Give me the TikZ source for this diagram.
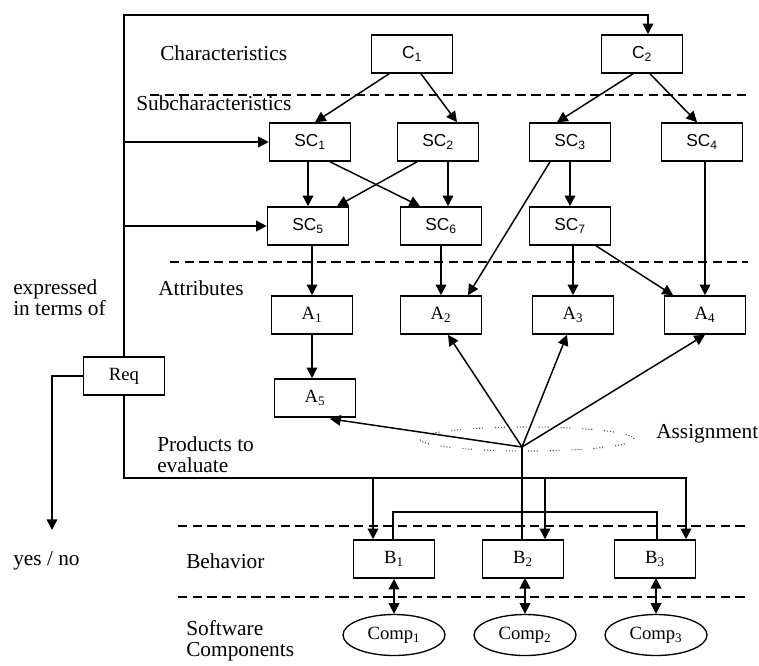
\documentclass[tikz,border=0pt]{standalone}
\usepackage{fontspec}
\setmainfont{Liberation Serif}
\newfontfamily\boxsans{Liberation Sans}
\usetikzlibrary{arrows.meta,shapes.geometric,calc}
\newcommand\mysub[1]{\textsubscript{#1}}
\begin{document}
\begin{tikzpicture}[x=0.75pt,y=-0.75pt,
  box/.style={draw,line width=1.2pt,minimum width=60.75pt,minimum height=28.5pt,inner sep=0pt,font=\fontsize{14}{14}\selectfont},
  sbox/.style={box,font=\boxsans\fontsize{13}{13}\selectfont},
  comp/.style={draw,ellipse,line width=1pt,minimum width=76.5pt,minimum height=30.75pt,inner sep=0pt,font=\fontsize{14}{14}\selectfont},
  lbl/.style={anchor=west,inner sep=0pt,align=left,font=\fontsize{16}{15.5}\selectfont},
  arr/.style={line width=1.1pt,-{Triangle[length=8pt,width=8pt]}},
  ln/.style={line width=1.1pt},
  dsh/.style={line width=1.2pt,dash pattern=on 7pt off 4pt},
  darr/.style={line width=1.1pt,{Triangle[length=8pt,width=8pt]}-{Triangle[length=8pt,width=8pt]}}
]
\useasboundingbox (0,0) rectangle (759,665);
% dashed layer separators
\draw[dsh] (150,95) -- (748,95);
\draw[dsh] (170,262) -- (748,262);
\draw[dsh] (178,526) -- (748,526);
\draw[dsh] (178,597) -- (748,597);
% labels
\node[lbl] (lchar) at (160,53) {Characteristics};
\node[lbl] (lsub) at (136,103) {Subcharacteristics};
\node[lbl] (lattr) at (158,288) {Attributes};
\node[lbl] (lexp) at (13,298) {expressed\\in terms of};
\node[lbl] (lprod) at (157,455) {Products to\\evaluate};
\node[lbl] (lassign) at (656,434) {Assignment};
\node[lbl] (lbeh) at (186,561) {Behavior};
\node[lbl] (lsoft) at (186,641) {Software\\Components};
\node[lbl] (lyes) at (13,561) {yes / no};
% boxes
\node[sbox] (C1) at (412,54) {C\mysub{1}};
\node[sbox] (C2) at (642,54) {C\mysub{2}};
\node[sbox] (SC1) at (310,142) {SC\mysub{1}};
\node[sbox] (SC2) at (438,142) {SC\mysub{2}};
\node[sbox] (SC3) at (570,142) {SC\mysub{3}};
\node[sbox] (SC4) at (702,142) {SC\mysub{4}};
\node[sbox] (SC5) at (308,226) {SC\mysub{5}};
\node[sbox] (SC6) at (441,226) {SC\mysub{6}};
\node[sbox] (SC7) at (570,226) {SC\mysub{7}};
\node[box] (A1) at (312,315) {A\mysub{1}};
\node[box] (A2) at (441,315) {A\mysub{2}};
\node[box] (A3) at (573,315) {A\mysub{3}};
\node[box] (A4) at (705,315) {A\mysub{4}};
\node[box] (A5) at (315,398) {A\mysub{5}};
\node[box] (Req) at (124,376) {Req};
\node[box] (B1) at (394,559) {B\mysub{1}};
\node[box] (B2) at (523,559) {B\mysub{2}};
\node[box] (B3) at (655,559) {B\mysub{3}};
\node[comp] (Comp1) at (394,635) {Comp\mysub{1}};
\node[comp] (Comp2) at (525,635) {Comp\mysub{2}};
\node[comp] (Comp3) at (656,635) {Comp\mysub{3}};
% helper coordinates
\coordinate (sc6in) at ($(SC6.north)+(7,0)$);
\coordinate (sc2out) at (sc6in |- SC2.south);
\coordinate (c2in) at ($(C2.north)+(6,0)$);
\coordinate (topc) at ($(C2.north)+(6,-19)$);
\coordinate (yn) at (52,530);
% frame from Req
\draw[arr] (Req.north) |- (topc) -- (c2in);
\draw[arr] (Req.north |- SC1.west) -- (SC1.west);
\draw[arr] (Req.north |- SC5.west) -- (SC5.west);
\draw[arr] (Req.west) -| (yn);
% characteristics to subcharacteristics
\draw[arr] ($(C1.south)+(-23,0)$) -- ($(SC1.north)+(5,0)$);
\draw[arr] ($(C1.south)+(9,0)$) -- ($(SC2.north)+(19,0)$);
\draw[arr] ($(C2.south)+(-9,0)$) -- ($(SC3.north)+(-13,0)$);
\draw[arr] ($(C2.south)+(8,0)$) -- ($(SC4.north)+(-5,0)$);
% subcharacteristics
\draw[arr] (SC5.north |- SC1.south) -- (SC5.north);
\draw[arr] ($(SC1.south)+(20,0)$) -- ($(SC6.north)+(-21,0)$);
\draw[arr] ($(SC2.south)+(-21,0)$) -- ($(SC5.north)+(29,0)$);
\draw[arr] (sc2out) -- (sc6in);
\draw[arr] (SC7.north |- SC3.south) -- (SC7.north);
\draw[arr] ($(SC3.south)+(-20,0)$) -- ($(A2.north)+(27,0)$);
\draw[arr] (A4.north |- SC4.south) -- (A4.north);
% to attributes
\draw[arr] (A1.north |- SC5.south) -- (A1.north);
\draw[arr] (SC6.south) -- (A2.north);
\draw[arr] (A3.north |- SC7.south) -- (A3.north);
\draw[arr] ($(SC7.south)+(26,0)$) -- ($(A4.north)+(-32,0)$);
\draw[arr] (A1.south) -- (A1.south |- A5.north);
% assignment hub
\coordinate (hub) at (522,447);
\draw[black!70,line width=0.8pt,dash pattern=on 0.8pt off 1.4pt on 0.8pt off 1.4pt on 0.8pt off 1.4pt on 0.8pt off 9pt] (527,439) ellipse [x radius=80.25pt, y radius=9pt];
\draw[ln] (B2.north -| hub) -- (hub);
\draw[arr] (hub) -- ($(A2.south)+(7,0)$);
\draw[arr] (hub) -- ($(A3.south)+(-6,0)$);
\draw[arr] (hub) -- (A4.south);
\draw[arr] (hub) -- ($(A5.south)+(15,1)$);
% products to evaluate
\draw[arr] (Req.south) |- ($(B3.north)+(31,-61)$) -- ($(B3.north)+(31,0)$);
\draw[arr] ($(B1.north)+(-21,-61)$) -- ($(B1.north)+(-21,0)$);
\draw[arr] ($(B2.north)+(22,-61)$) -- ($(B2.north)+(22,0)$);
\draw[ln] ($(B1.north)+(-1,0)$) |- ($(B3.north)+(2,-27)$) -- ($(B3.north)+(2,0)$);
% behavior to components
\draw[darr] (B1.south) -- (Comp1.north);
\draw[darr] ($(Comp2.north)+(0,-36)$) -- (Comp2.north);
\draw[darr] ($(Comp3.north)+(0,-36)$) -- (Comp3.north);
\end{tikzpicture}
\end{document}
